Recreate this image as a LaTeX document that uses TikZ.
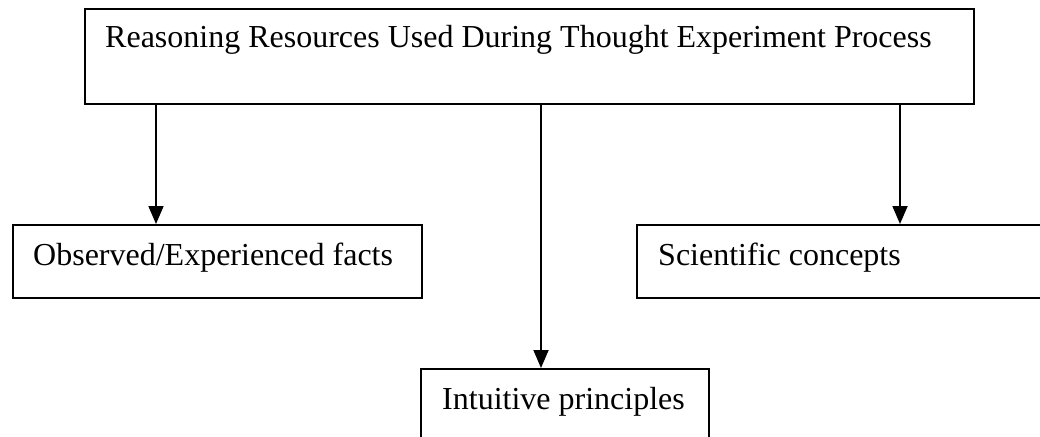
\documentclass[tikz,border=0pt]{standalone}
\usepackage{fontspec}
\setmainfont{Liberation Serif}
\usetikzlibrary{arrows.meta}
\begin{document}
\begin{tikzpicture}[x=1pt,y=1pt,
  box/.style={draw=black, line width=1.8pt, rectangle, inner sep=0pt, anchor=north west},
  lbl/.style={inner sep=0pt, anchor=base west, font=\fontsize{32}{37}\selectfont},
  conn/.style={line width=1.8pt, -{Triangle[length=18pt,width=15pt]}}]
\useasboundingbox (0,0) rectangle (1040,-436);
\clip (0,0) rectangle (1040,-436);
\node[box, minimum width=889pt, minimum height=95pt] (top) at (84,-8) {};
\node[lbl] (toplbl) at (105,-48) {Reasoning Resources Used During Thought Experiment Process};
\node[box, minimum width=409pt, minimum height=73pt] (obs) at (12,-224) {};
\node[lbl] (obslbl) at (33,-265) {Observed/Experienced facts};
\node[box, minimum width=420pt, minimum height=73pt] (sci) at (636,-224) {};
\node[lbl] (scilbl) at (658,-265) {Scientific concepts};
\node[box, minimum width=288pt, minimum height=100pt] (int) at (420,-368) {};
\node[lbl] (intlbl) at (442,-409) {Intuitive principles};
\coordinate (a1) at (156,-103);
\coordinate (a2) at (541,-103);
\coordinate (a3) at (900,-103);
\draw[conn] (a1) -- (a1 |- obs.north);
\draw[conn] (a2) -- (a2 |- int.north);
\draw[conn] (a3) -- (a3 |- sci.north);
\end{tikzpicture}
\end{document}
